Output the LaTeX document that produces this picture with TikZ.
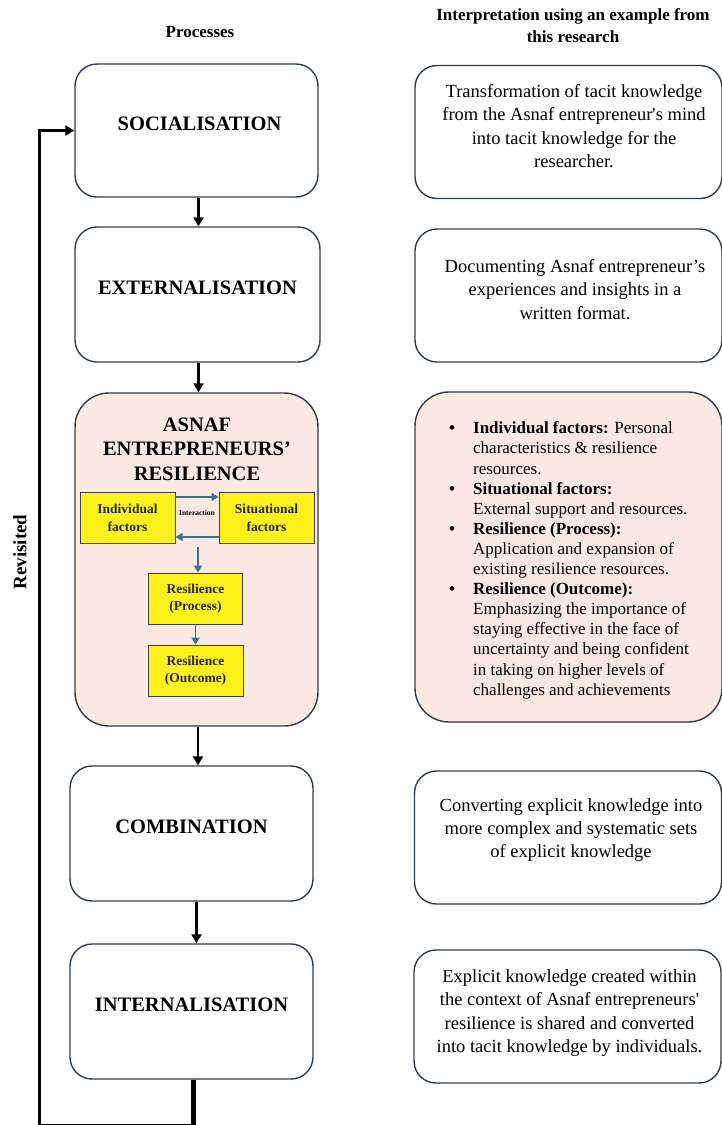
\documentclass[tikz,border=0pt]{standalone}
\usepackage{fontspec}
\setmainfont{Liberation Serif}
\usetikzlibrary{arrows.meta}
\definecolor{boxline}{HTML}{2E3D4C}
\definecolor{pinkfill}{HTML}{FBE9E2}
\definecolor{factfill}{HTML}{FFF21A}
\definecolor{arrowblue}{HTML}{3A7093}

\begin{document}
\begin{tikzpicture}[x=1pt,y=-1pt,
  procbox/.style={draw=boxline,line width=1.4pt,rounded corners=22pt,minimum width=243pt,minimum height=133pt,inner sep=0pt},
  notebox/.style={draw=boxline,line width=1.4pt,rounded corners=22pt,minimum width=307pt,minimum height=133pt,inner sep=0pt},
  proctitle/.style={font=\fontsize{20.5}{24.5}\selectfont\bfseries,align=center,inner sep=0pt},
  notetext/.style={font=\fontsize{18.5}{23.3}\selectfont,align=center,inner sep=0pt},
  headtext/.style={font=\fontsize{17}{22}\selectfont\bfseries,align=center,inner sep=0pt},
  factbox/.style={draw=black!75,line width=1pt,fill=factfill,minimum height=51pt,inner sep=0pt,align=center,text=black!85,font=\fontsize{13.5}{17.5}\selectfont\bfseries},
  blarrow/.style={draw=arrowblue,line width=1.6pt,-{Triangle[length=7pt,width=8pt]}},
  flowarrow/.style={black,line width=2.5pt,-{Triangle[length=9pt,width=10pt]}},
  loopline/.style={black,line width=3pt,-{Triangle[length=9pt,width=10pt]}}]
\useasboundingbox (0,0) rectangle (722,1125);

\node[headtext] (hproc) at (200,32) {Processes};
\node[headtext] (hint) at (573,26) {Interpretation using an example from\\this research};

\node[procbox] (soc) at (196.5,130.5) {};
\node[procbox,minimum width=245pt,minimum height=135pt] (ext) at (197.5,294.5) {};
\node[procbox,fill=pinkfill,rounded corners=34pt,minimum height=333pt] (res) at (196.5,559.5) {};
\node[procbox,minimum height=135pt] (com) at (191.5,833.5) {};
\node[procbox,minimum height=135pt] (int) at (191.5,1011.5) {};

\node[proctitle] (soct) at ([xshift=3pt,yshift=7pt]soc.center) {SOCIALISATION};
\node[proctitle] (extt) at ([yshift=7pt]ext.center) {EXTERNALISATION};
\node[proctitle] (rest) at (197,449) {ASNAF\\ENTREPRENEURS'\\RESILIENCE};
\node[proctitle] (comt) at ([yshift=7pt]com.center) {COMBINATION};
\node[proctitle] (intt) at ([yshift=7pt]int.center) {INTERNALISATION};

\node[factbox,minimum width=95pt] (indf) at (127.5,518) {Individual\\factors};
\node[factbox,minimum width=95pt] (sitf) at (266.5,518) {Situational\\factors};
\node[factbox,minimum width=94pt] (procf) at (195.5,598.5) {Resilience\\(Process)};
\node[factbox,minimum width=95pt] (outf) at (195.5,670.5) {Resilience\\(Outcome)};
\node[font=\fontsize{7.5}{9}\selectfont\bfseries,inner sep=0pt] (inter) at (197,513) {Interaction};

\draw[blarrow] ([yshift=-5pt]indf.north east) -- ([yshift=-5pt]sitf.north west);
\draw[blarrow] ([yshift=7pt]sitf.south west) -- ([yshift=7pt]indf.south east);
\draw[blarrow] ([xshift=2.5pt,yshift=-3pt]procf.north |- indf.south) -- ([xshift=2.5pt]procf.north);
\draw[blarrow] (procf.south) -- (outf.north);

\node[notebox] (n1) at (568.5,132) {};
\node[notebox] (n2) at (568.5,295.5) {};
\node[notebox,fill=pinkfill,rounded corners=34pt,minimum height=330pt] (n3) at (568.5,557) {};
\node[notebox] (n4) at (568,837.5) {};
\node[notebox] (n5) at (567.5,1016.5) {};

\node[notetext] (n1t) at (574,126) {Transformation of tacit knowledge\\from the Asnaf entrepreneur\textquotesingle s mind\\into tacit knowledge for the\\researcher.};
\node[notetext] (n2t) at (575,289.5) {Documenting Asnaf entrepreneur's\\experiences and insights in a\\written format.};
\node[anchor=west,inner sep=0pt,font=\fontsize{17}{20.1}\selectfont] (n3t) at (449,560.5) {%
\begin{tabular}{@{}c@{\hspace{18pt}}l@{}}
\textbf{\textbullet} & \textbf{Individual factors:} Personal\\
 & characteristics \& resilience\\
 & resources.\\
\textbf{\textbullet} & \textbf{Situational factors:}\\
 & External support and resources.\\
\textbf{\textbullet} & \textbf{Resilience (Process):}\\
 & Application and expansion of\\
 & existing resilience resources.\\
\textbf{\textbullet} & \textbf{Resilience (Outcome):}\\
 & Emphasizing the importance of\\
 & staying effective in the face of\\
 & uncertainty and being confident\\
 & in taking on higher levels of\\
 & challenges and achievements
\end{tabular}};
\node[notetext] (n4t) at (571,830) {Converting explicit knowledge into\\more complex and systematic sets\\of explicit knowledge};
\node[notetext] (n5t) at (569.5,1013) {Explicit knowledge created within\\the context of Asnaf entrepreneurs\textquotesingle\\resilience is shared and converted\\into tacit knowledge by individuals.};

\draw[flowarrow] ([xshift=2pt]soc.south) -- ([xshift=2pt]soc.south |- ext.north);
\draw[flowarrow] ([xshift=1pt]ext.south) -- ([xshift=1pt]ext.south |- res.north);
\draw[flowarrow] ([xshift=1.5pt]res.south) -- ([xshift=1.5pt]res.south |- com.north);
\draw[flowarrow] ([xshift=5pt]com.south) -- ([xshift=5pt]com.south |- int.north);

\coordinate (lbr) at (193,1125);
\coordinate (lbl) at (39.5,1125);
\draw[black,line width=5pt] (int.south -| lbr) -- (lbr);
\draw[loopline] (lbr) -- (lbl) |- (soc.west);
\node[rotate=90,font=\fontsize{19}{22}\selectfont\bfseries,inner sep=0pt] (rev) at (20,552) {Revisited};
\end{tikzpicture}
\end{document}
